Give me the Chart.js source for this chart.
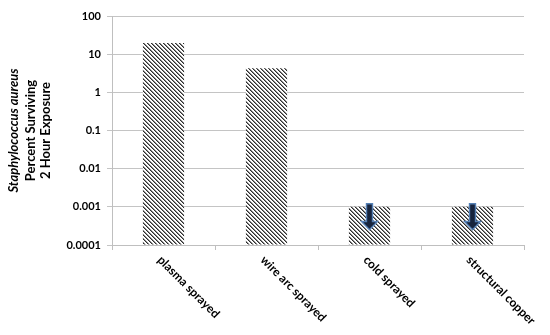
<!DOCTYPE html>
<html><head><meta charset="utf-8">
<script src="https://cdn.jsdelivr.net/npm/chart.js@4/dist/chart.umd.min.js"></script>
<style>html,body{margin:0;padding:0;background:#fff}#wrap{width:550px;height:335px}</style>
</head><body><div id="wrap"><canvas id="c"></canvas></div>
<script>
const categories = ['plasma sprayed', 'wire arc sprayed', 'cold sprayed', 'structural copper'];
const survival = [19.5, 4.3, 0.001, 0.001];
const arrowTop = [null, null, 0.0012, 0.0012];
const arrowTip = [null, null, 0.00025, 0.00025];
const tickValues = [0.0001, 0.001, 0.01, 0.1, 1, 10, 100];
const tickLabels = ['0.0001', '0.001', '0.01', '0.1', '1', '10', '100'];
const titleLines = ['Staphylococcus aureus', 'Percent Surviving', '2 Hour Exposure'];

function makePattern() {
  const t = document.createElement('canvas');
  t.width = 4; t.height = 4;
  const g = t.getContext('2d');
  g.fillStyle = '#ffffff'; g.fillRect(0, 0, 4, 4);
  for (let y = 0; y < 4; y++) for (let x = 0; x < 4; x++) {
    const d = ((x - y) % 4 + 4) % 4;
    if (d === 0) { g.fillStyle = '#2e2e2e'; g.fillRect(x, y, 1, 1); }
    else if (d === 1) { g.fillStyle = '#8a8a8a'; g.fillRect(x, y, 1, 1); }
  }
  return document.getElementById('c').getContext('2d').createPattern(t, 'repeat');
}

const FONT = "Lato, 'Open Sans', sans-serif";

const extras = {
  id: 'extras',
  afterDatasetsDraw(chart) {
    const ctx = chart.ctx, xs = chart.scales.x, ys = chart.scales.y;
    // arrows
    for (let i = 0; i < categories.length; i++) {
      if (arrowTop[i] == null) continue;
      const cx = xs.getPixelForValue(i);
      const y0 = ys.getPixelForValue(arrowTop[i]);
      const y1 = ys.getPixelForValue(arrowTip[i]);
      const hh = (y1 - y0) * 0.32;
      ctx.save();
      ctx.beginPath();
      ctx.moveTo(cx - 3, y0);
      ctx.lineTo(cx + 3, y0);
      ctx.lineTo(cx + 3, y1 - hh);
      ctx.lineTo(cx + 8, y1 - hh);
      ctx.lineTo(cx, y1);
      ctx.lineTo(cx - 8, y1 - hh);
      ctx.lineTo(cx - 3, y1 - hh);
      ctx.closePath();
      ctx.fillStyle = '#17243d';
      ctx.fill();
      ctx.strokeStyle = '#5580b5';
      ctx.lineWidth = 1.4;
      ctx.stroke();
      ctx.restore();
    }
    // x labels rotated down-right
    ctx.save();
    ctx.fillStyle = '#000';
    ctx.font = "bold 12px " + FONT;
    ctx.textAlign = 'left';
    ctx.textBaseline = 'middle';
    for (let i = 0; i < categories.length; i++) {
      const cx = xs.getPixelForValue(i);
      ctx.save();
      ctx.translate(cx - 4, xs.top + 13);
      ctx.rotate(Math.PI / 4);
      ctx.fillText(categories[i], 0, 0);
      ctx.restore();
    }
    ctx.restore();
    // y title
    const ca = chart.chartArea;
    const cy = (ca.top + ca.bottom) / 2;
    const xsLines = [14, 31, 46];
    const fonts = ["italic bold 13px " + FONT, "bold 13px " + FONT, "bold 13px " + FONT];
    ctx.save();
    ctx.fillStyle = '#000';
    ctx.textAlign = 'center';
    ctx.textBaseline = 'middle';
    for (let k = 0; k < titleLines.length; k++) {
      ctx.save();
      ctx.translate(xsLines[k], cy);
      ctx.rotate(-Math.PI / 2);
      ctx.font = fonts[k];
      ctx.fillText(titleLines[k], 0, 0);
      ctx.restore();
    }
    ctx.restore();
  }
};

new Chart(document.getElementById('c'), {
  type: 'bar',
  data: {
    labels: categories,
    datasets: [{
      data: survival,
      backgroundColor: makePattern(),
      borderWidth: 0,
      barPercentage: 0.4,
      categoryPercentage: 1.0,
      base: 0.0001
    }]
  },
  options: {
    responsive: true,
    maintainAspectRatio: false,
    animation: false,
    layout: { padding: { top: 16, right: 26, left: 0, bottom: 0 } },
    plugins: { legend: { display: false }, tooltip: { enabled: false } },
    scales: {
      x: {
        ticks: { display: false },
        grid: { drawOnChartArea: false, tickLength: 5, color: '#bfbfbf', offset: true },
        border: { color: '#bfbfbf' },
        afterFit(s) { s.height = 90; }
      },
      y: {
        type: 'logarithmic',
        min: 0.0001, max: 100,
        afterBuildTicks(s) { s.ticks = tickValues.map(v => ({ value: v })); },
        ticks: {
          callback: (v) => { const i = tickValues.findIndex(t => Math.abs(t - v) / t < 1e-6); return i >= 0 ? tickLabels[i] : ''; },
          font: { family: FONT, size: 11, weight: 'bold' },
          color: '#000',
          padding: 6,
          autoSkip: false
        },
        grid: { color: '#c4c4c4', tickLength: 5, lineWidth: 1 },
        border: { color: '#bfbfbf' },
        afterFit(s) { s.width = 112; }
      }
    }
  },
  plugins: [extras]
});
</script></body></html>
